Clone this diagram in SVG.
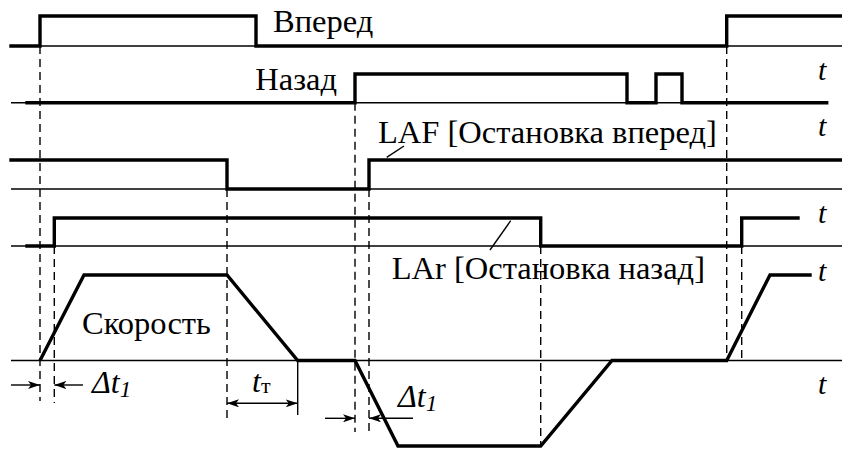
<svg xmlns="http://www.w3.org/2000/svg" width="842" height="452" viewBox="0 0 842 452">
<style>
.ax{stroke:#000;stroke-width:1.4;fill:none}
.sig{stroke:#000;stroke-width:3.4;fill:none;stroke-linejoin:miter;stroke-linecap:square}
.dsh{stroke:#000;stroke-width:1.4;fill:none;stroke-dasharray:8 5}
.thin{stroke:#000;stroke-width:1.4;fill:none}
</style>
<defs>
<marker id="ah" viewBox="0 0 12 8" refX="12" refY="4" markerWidth="12" markerHeight="8" markerUnits="userSpaceOnUse" orient="auto-start-reverse">
<path d="M0,0 L12,4 L0,8 L3,4 z" fill="#000"/>
</marker>
</defs>
<rect width="842" height="452" fill="#fff"/>
<g id="axes">
<line class="ax" x1="11" y1="46" x2="842" y2="46"/>
<line class="ax" x1="11" y1="102.7" x2="826.7" y2="102.7"/>
<line class="ax" x1="11" y1="189" x2="842" y2="189"/>
<line class="ax" x1="11" y1="246" x2="842" y2="246"/>
<line class="ax" x1="11" y1="360.5" x2="842" y2="360.5"/>
</g>
<g id="guides">
<line class="dsh" x1="40" y1="46" x2="40" y2="401"/>
<line class="dsh" x1="54.3" y1="246" x2="54.3" y2="403"/>
<line class="dsh" x1="227" y1="189" x2="227" y2="418"/>
<line class="dsh" x1="355" y1="102.7" x2="355" y2="432"/>
<line class="dsh" x1="369" y1="189" x2="369" y2="432"/>
<line class="dsh" x1="540.7" y1="246" x2="540.7" y2="446"/>
<line class="dsh" x1="726.7" y1="46" x2="726.7" y2="360.5"/>
<line class="dsh" x1="741.7" y1="246" x2="741.7" y2="360.5"/>
<line class="thin" x1="297.7" y1="360.5" x2="297.7" y2="415"/>
</g>
<g id="signals">
<polyline id="sig-vpered" class="sig" points="11,46 40,46 40,16 256,16 256,46 726.7,46 726.7,16 842,16"/>
<polyline id="sig-nazad" class="sig" points="27,102.7 355,102.7 355,74 627,74 627,102.7 656,102.7 656,74 682,74 682,102.7 826.7,102.7"/>
<polyline id="sig-laf" class="sig" points="11,160 227,160 227,189 369,189 369,160 842,160"/>
<polyline id="sig-lar" class="sig" points="27,246 54.3,246 54.3,218 540.7,218 540.7,246 741.7,246 741.7,218 798,218"/>
<polyline id="sig-speed" class="sig" style="stroke-linecap:butt" points="40,360.5 84,275 227,275 297.7,360.5 355,360.5 398,446 540.7,446 612,360.5 726.7,360.5 770,275 811.7,275"/>
</g>
<g id="connectors">
<line class="thin" x1="386.7" y1="157.3" x2="404" y2="146"/>
<line class="thin" x1="490" y1="250" x2="510.7" y2="220.7"/>
<line class="thin" x1="11" y1="385" x2="40" y2="385" marker-end="url(#ah)"/>
<line class="thin" x1="83" y1="385" x2="54.3" y2="385" marker-end="url(#ah)"/>
<line class="thin" x1="227" y1="403.3" x2="297.7" y2="403.3" marker-start="url(#ah)" marker-end="url(#ah)"/>
<line class="thin" x1="325" y1="418.3" x2="355" y2="418.3" marker-end="url(#ah)"/>
<line class="thin" x1="413" y1="418.3" x2="369" y2="418.3" marker-end="url(#ah)"/>
</g>
<g id="labels">
<text font-family="Liberation Serif, serif" font-size="32.5" x="273" y="32">Вперед</text>
<text font-family="Liberation Serif, serif" font-size="32.5" x="337" y="90" text-anchor="end">Назад</text>
<text font-family="Liberation Serif, serif" font-size="32.5" x="378" y="143">LAF [Остановка вперед]</text>
<text font-family="Liberation Serif, serif" font-size="32.5" x="391.7" y="279">LAr [Остановка назад]</text>
<text font-family="Liberation Serif, serif" font-size="32.5" x="82" y="334">Скорость</text>
<text font-family="Liberation Serif, serif" font-size="30" font-style="italic" x="818" y="80">t</text>
<text font-family="Liberation Serif, serif" font-size="30" font-style="italic" x="818" y="136">t</text>
<text font-family="Liberation Serif, serif" font-size="30" font-style="italic" x="818" y="223">t</text>
<text font-family="Liberation Serif, serif" font-size="30" font-style="italic" x="818" y="281">t</text>
<text font-family="Liberation Serif, serif" font-size="30" font-style="italic" x="818" y="394">t</text>
<text font-family="Liberation Serif, serif" font-size="32" font-style="italic" x="92" y="393">Δt<tspan font-size="23" dy="4">1</tspan></text>
<text font-family="Liberation Serif, serif" font-size="32" font-style="italic" x="252" y="392">t<tspan font-style="normal" font-size="22" dy="1">т</tspan></text>
<text font-family="Liberation Serif, serif" font-size="32" font-style="italic" x="398" y="407">Δt<tspan font-size="23" dy="4">1</tspan></text>
</g>
</svg>
